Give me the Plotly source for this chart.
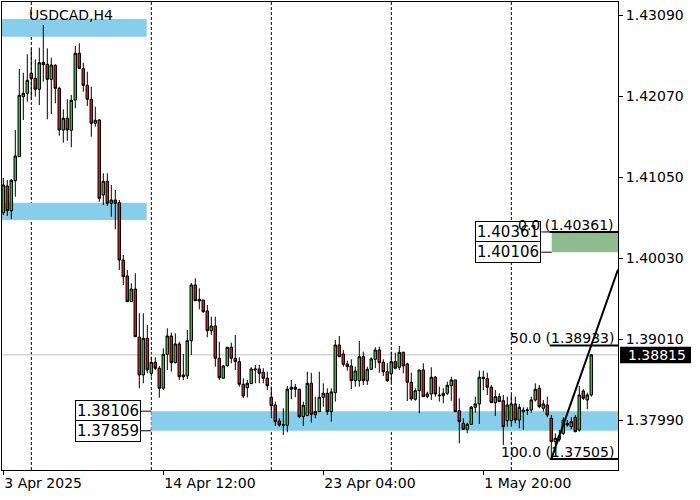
import plotly.graph_objects as go

# ---------------- data (USDCAD, H4) ----------------
opens = [1.40603, 1.40939, 1.40628, 1.41006, 1.41308, 1.42063, 1.42105, 1.42357, 1.42294, 1.42156,
         1.42495, 1.42470, 1.42281, 1.42458, 1.42168, 1.41644, 1.41791, 1.41640, 1.42021, 1.42609,
         1.42415, 1.42206, 1.42030, 1.41728, 1.41769, 1.40826, 1.40998, 1.40722, 1.40763, 1.40729,
         1.40008, 1.39807, 1.39484, 1.39643, 1.39036, 1.38562, 1.39023, 1.38583, 1.38721, 1.38646,
         1.38394, 1.38822, 1.39052, 1.38716, 1.38951, 1.38562, 1.38549, 1.38993, 1.39694, 1.39514,
         1.39505, 1.39367, 1.39119, 1.39178, 1.38772, 1.38520, 1.38679, 1.38910, 1.38772, 1.38729,
         1.38445, 1.38402, 1.38452, 1.38624, 1.38637, 1.38596, 1.38520, 1.38281, 1.38184, 1.37983,
         1.37929, 1.37929, 1.38382, 1.38407, 1.38382, 1.38037, 1.38050, 1.38457, 1.38062, 1.38100,
         1.38281, 1.38331, 1.38100, 1.38339, 1.38939, 1.38826, 1.38700, 1.38675, 1.38490, 1.38490,
         1.38792, 1.38490, 1.38633, 1.38759, 1.38876, 1.38721, 1.38603, 1.38578, 1.38729, 1.38658,
         1.38847, 1.38700, 1.38470, 1.38256, 1.38364, 1.38624, 1.38289, 1.38323, 1.38533, 1.38310,
         1.38301, 1.38331, 1.38427, 1.38499, 1.38112, 1.37954, 1.37878, 1.37941, 1.38155, 1.38197,
         1.38515, 1.38515, 1.38407, 1.38213, 1.38289, 1.38238, 1.37987, 1.37987, 1.38197, 1.37995,
         1.38100, 1.38112, 1.38121, 1.38247, 1.38394, 1.38143, 1.38184, 1.38017, 1.37722, 1.37753,
         1.37828, 1.37954, 1.37911, 1.38029, 1.37870, 1.38360, 1.38247, 1.38310]
highs = [1.41040, 1.41015, 1.41027, 1.41644, 1.42411, 1.42364, 1.42596, 1.42671, 1.42533, 1.42679,
         1.42965, 1.42671, 1.42553, 1.42470, 1.42188, 1.41904, 1.42030, 1.42084, 1.42700, 1.42734,
         1.42490, 1.42377, 1.42188, 1.41937, 1.41782, 1.41099, 1.41099, 1.40952, 1.40889, 1.40763,
         1.40071, 1.39882, 1.39715, 1.39841, 1.39338, 1.39338, 1.39191, 1.38792, 1.38784, 1.38675,
         1.38897, 1.39149, 1.39094, 1.39086, 1.38980, 1.38826, 1.39128, 1.39719, 1.39778, 1.39652,
         1.39505, 1.39442, 1.39295, 1.39295, 1.38980, 1.38687, 1.38910, 1.38968, 1.39065, 1.38784,
         1.38520, 1.38499, 1.38658, 1.38687, 1.38687, 1.38646, 1.38603, 1.38414, 1.38226, 1.38017,
         1.38143, 1.38423, 1.38499, 1.38448, 1.38382, 1.38226, 1.38603, 1.38590, 1.38289, 1.38603,
         1.38457, 1.38394, 1.38394, 1.39002, 1.39052, 1.38876, 1.38741, 1.38759, 1.38666, 1.38989,
         1.38855, 1.38666, 1.38784, 1.38910, 1.38918, 1.38759, 1.38709, 1.38855, 1.38842, 1.38926,
         1.38855, 1.38716, 1.38590, 1.38394, 1.38624, 1.38709, 1.38351, 1.38658, 1.38549, 1.38414,
         1.38394, 1.38477, 1.38540, 1.38499, 1.38268, 1.38017, 1.37961, 1.38172, 1.38289, 1.38616,
         1.38616, 1.38590, 1.38436, 1.38373, 1.38331, 1.38310, 1.38289, 1.38310, 1.38289, 1.38197,
         1.38155, 1.38155, 1.38289, 1.38457, 1.38436, 1.38247, 1.38289, 1.38058, 1.37828, 1.37870,
         1.38029, 1.37995, 1.38029, 1.38058, 1.38423, 1.38382, 1.38339, 1.38826]
lows = [1.40574, 1.40562, 1.40524, 1.40805, 1.41304, 1.41769, 1.42000, 1.42021, 1.42063, 1.41958,
        1.42251, 1.41778, 1.41845, 1.41979, 1.41572, 1.41484, 1.41509, 1.41426, 1.41917, 1.42407,
        1.42125, 1.41946, 1.41559, 1.41685, 1.40742, 1.40700, 1.40688, 1.40553, 1.40394, 1.39882,
        1.39694, 1.39480, 1.39480, 1.39040, 1.38394, 1.38457, 1.38583, 1.38540, 1.38624, 1.38276,
        1.38373, 1.38624, 1.38603, 1.38709, 1.38499, 1.38499, 1.38511, 1.38813, 1.39492, 1.39388,
        1.39345, 1.39036, 1.39065, 1.38666, 1.38499, 1.38520, 1.38666, 1.38709, 1.38624, 1.38414,
        1.38268, 1.38281, 1.38452, 1.38457, 1.38457, 1.38457, 1.38373, 1.38017, 1.37920, 1.37911,
        1.37807, 1.37841, 1.38256, 1.38281, 1.38017, 1.37920, 1.38046, 1.37961, 1.38017, 1.38096,
        1.38163, 1.38058, 1.37974, 1.38226, 1.38784, 1.38666, 1.38616, 1.38385, 1.38414, 1.38414,
        1.38436, 1.38436, 1.38624, 1.38646, 1.38590, 1.38549, 1.38474, 1.38465, 1.38633, 1.38624,
        1.38583, 1.38234, 1.38238, 1.38238, 1.38080, 1.38285, 1.38268, 1.38247, 1.38289, 1.38226,
        1.38206, 1.38310, 1.38238, 1.38100, 1.37702, 1.37870, 1.37828, 1.37932, 1.38087, 1.37945,
        1.38373, 1.38310, 1.38209, 1.38046, 1.38226, 1.37681, 1.37911, 1.37911, 1.37954, 1.37891,
        1.37870, 1.38058, 1.38087, 1.38226, 1.38143, 1.38100, 1.38029, 1.37505, 1.37681, 1.37722,
        1.37807, 1.37911, 1.37878, 1.37841, 1.37848, 1.38247, 1.38130, 1.38289]
closes = [1.40952, 1.40628, 1.41011, 1.41317, 1.42080, 1.42105, 1.42269, 1.42289, 1.42156, 1.42490,
          1.42465, 1.42281, 1.42461, 1.42168, 1.41644, 1.41791, 1.41644, 1.42017, 1.42609, 1.42420,
          1.42206, 1.42030, 1.41728, 1.41766, 1.40784, 1.40998, 1.40722, 1.40763, 1.40722, 1.40008,
          1.39798, 1.39484, 1.39643, 1.39043, 1.38562, 1.39023, 1.38624, 1.38721, 1.38646, 1.38394,
          1.38822, 1.39052, 1.38716, 1.38951, 1.38540, 1.38540, 1.38993, 1.39694, 1.39496, 1.39492,
          1.39358, 1.39119, 1.39178, 1.38772, 1.38528, 1.38675, 1.38910, 1.38772, 1.38729, 1.38445,
          1.38297, 1.38457, 1.38637, 1.38637, 1.38583, 1.38520, 1.38427, 1.38175, 1.37974, 1.37932,
          1.37936, 1.38382, 1.38407, 1.38382, 1.38037, 1.38180, 1.38457, 1.38067, 1.38100, 1.38281,
          1.38331, 1.38100, 1.38348, 1.38939, 1.38792, 1.38696, 1.38666, 1.38490, 1.38612, 1.38792,
          1.38490, 1.38633, 1.38763, 1.38876, 1.38716, 1.38603, 1.38490, 1.38729, 1.38646, 1.38847,
          1.38675, 1.38470, 1.38260, 1.38364, 1.38624, 1.38289, 1.38323, 1.38533, 1.38323, 1.38301,
          1.38331, 1.38432, 1.38499, 1.38100, 1.37974, 1.37878, 1.37941, 1.38155, 1.38197, 1.38533,
          1.38533, 1.38407, 1.38213, 1.38289, 1.38226, 1.37911, 1.38184, 1.38197, 1.37995, 1.38155,
          1.38121, 1.38121, 1.38247, 1.38382, 1.38163, 1.38197, 1.38058, 1.37722, 1.37765, 1.37794,
          1.37995, 1.37932, 1.37974, 1.37848, 1.38310, 1.38268, 1.38310, 1.38815]

bar_index = list(range(len(closes)))

tick_bars = [0, 40, 80, 120]
tick_labels = ["3 Apr 2025", "14 Apr 12:00", "23 Apr 04:00", "1 May 20:00"]
week_separators = [7, 37, 67, 97, 127]
price_ticks = [1.37990, 1.39010, 1.40030, 1.41050, 1.42070, 1.43090]

# supply / demand zones: (bar start, bar end, upper, lower)
zone_top = (None, 35.85, 1.43040, 1.42817)
zone_mid = (None, 35.85, 1.40729, 1.40511)
zone_low = (37, None, 1.38106, 1.37859)
target_zone = (137.1, None, 1.40361, 1.40106)

fib_start_bar = 137
fib_levels = [("0.0", 1.40361), ("50.0", 1.38933), ("100.0", 1.37505)]
trend_points = [(137, 1.37505), (147, 1.38934)]
last_price = 1.38815

# ---------------- figure ----------------
X0, X1 = -0.325, 153.675
Y0, Y1 = 1.37366, 1.43254
FONT = "DejaVu Sans"

fig = go.Figure()
fig.add_trace(go.Candlestick(
    x=bar_index, open=opens, high=highs, low=lows, close=closes,
    increasing=dict(line=dict(color="black", width=1), fillcolor="#2ec02e"),
    decreasing=dict(line=dict(color="black", width=1), fillcolor="#e81414"),
    whiskerwidth=0, hoverinfo="none", showlegend=False))

shapes = []
for z, col in [(zone_top, "#87ceeb"), (zone_mid, "#87ceeb"), (zone_low, "#87ceeb"), (target_zone, "#8fbc8f")]:
    xs = X0 if z[0] is None else z[0]
    xe = X1 if z[1] is None else z[1]
    shapes.append(dict(type="rect", xref="x", yref="y", x0=xs, x1=xe, y0=z[3], y1=z[2],
                       fillcolor=col, line=dict(width=0), layer="below"))
for b in week_separators:
    shapes.append(dict(type="line", xref="x", yref="paper", x0=b, x1=b, y0=0, y1=1,
                       line=dict(color="black", width=1, dash="3px,2px"), layer="below"))
shapes.append(dict(type="line", xref="paper", yref="y", x0=0, x1=1, y0=last_price, y1=last_price,
                   line=dict(color="#c0c0c0", width=1), layer="below"))
for name, lv in fib_levels:
    shapes.append(dict(type="line", xref="x", yref="y", x0=fib_start_bar - 0.4, x1=X1, y0=lv, y1=lv,
                       line=dict(color="black", width=2)))
(tx0, ty0), (tx1, ty1) = trend_points
slope = (ty1 - ty0) / (tx1 - tx0)
shapes.append(dict(type="line", xref="x", yref="y", x0=tx0, y0=ty0, x1=X1, y1=ty0 + slope * (X1 - tx0),
                   line=dict(color="black", width=2)))
for xs, lv in [(zone_low[0], zone_low[2]), (zone_low[0], zone_low[3]),
               (target_zone[0], target_zone[2]), (target_zone[0], target_zone[3])]:
    shapes.append(dict(type="line", xref="x", yref="y", x0=xs - 2.6, x1=xs, y0=lv, y1=lv,
                       line=dict(color="black", width=1)))
shapes.append(dict(type="rect", xref="paper", yref="y", x0=1.0033, x1=1.1185, y0=1.38709, y1=1.38918,
                   fillcolor="black", line=dict(width=0)))

annotations = []
annotations.append(dict(text="USDCAD,H4", xref="paper", yref="paper", x=0.0406, y=0.972,
                        xanchor="left", yanchor="middle", showarrow=False,
                        font=dict(family=FONT, size=14, color="black")))
for xs, lv in [(zone_low[0], zone_low[2]), (zone_low[0], zone_low[3]),
               (target_zone[0], target_zone[2]), (target_zone[0], target_zone[3])]:
    annotations.append(dict(text=f"{lv:.5f}", xref="x", yref="y", x=xs - 2.6, y=lv,
                            xanchor="right", yanchor="middle", showarrow=False,
                            bgcolor="white", bordercolor="black", borderwidth=1, borderpad=1,
                            font=dict(family=FONT, size=15, color="black")))
for name, lv in fib_levels:
    annotations.append(dict(text=f"{name} ({lv:.5f})", xref="paper", yref="y", x=0.997, y=lv,
                            xanchor="right", yanchor="bottom", showarrow=False, yshift=-3,
                            font=dict(family=FONT, size=14, color="black")))
annotations.append(dict(text=f"{last_price:.5f}", xref="paper", yref="y", x=1.0125, y=last_price,
                        xanchor="left", yanchor="middle", showarrow=False,
                        font=dict(family=FONT, size=14, color="white")))

fig.update_layout(
    width=700, height=500,
    margin=dict(l=2, r=82, t=2, b=30),
    paper_bgcolor="white", plot_bgcolor="white",
    font=dict(family=FONT, size=14, color="black"),
    shapes=shapes, annotations=annotations,
    hovermode=False, showlegend=False,
    xaxis=dict(range=[X0, X1], rangeslider=dict(visible=False), showgrid=False, zeroline=False,
               showline=True, linecolor="black", linewidth=1, mirror=True,
               tickmode="array", tickvals=tick_bars, ticktext=tick_labels,
               ticks="outside", ticklen=4, tickcolor="black",
               ticklabelposition="outside right", tickfont=dict(family=FONT, size=14)),
    yaxis=dict(range=[Y0, Y1], side="right", showgrid=False, zeroline=False,
               showline=True, linecolor="black", linewidth=1, mirror=True,
               tickmode="array", tickvals=price_ticks, tickformat=".5f",
               ticks="outside", ticklen=4, tickcolor="black",
               tickfont=dict(family=FONT, size=14)),
    boxgap=0.1,
)

fig.write_html("out.html", config={"staticPlot": True},
               post_script="document.body.style.margin='0';document.body.style.overflow='hidden';")
